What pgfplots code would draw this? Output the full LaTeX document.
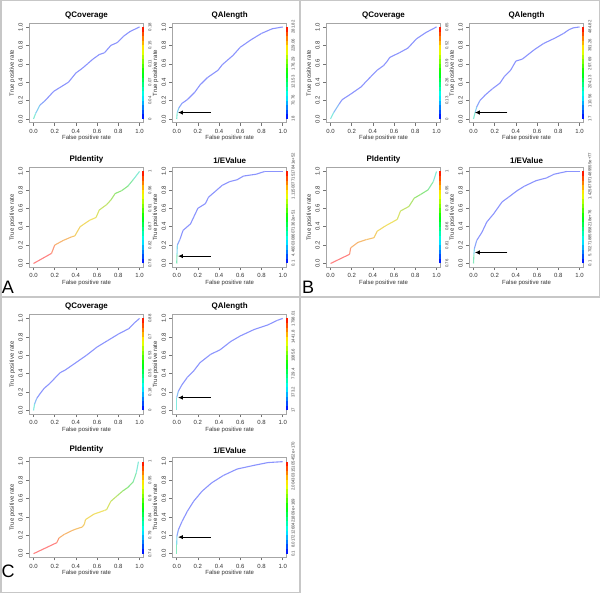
\documentclass[border=0pt]{standalone}
\usepackage{pgfplots}
\pgfplotsset{compat=1.18}
\usepackage{pgfplotstable}
\usepackage{fontspec}
\setmainfont{Liberation Sans}
\usetikzlibrary{arrows.meta}

\pgfplotsset{
  colormap={vivid}{rgb255=(0,0,255) rgb255=(0,255,255) rgb255=(0,255,0) rgb255=(255,255,0) rgb255=(255,0,0)},
  colormap={pastel}{rgb255=(140,140,255) rgb255=(130,235,235) rgb255=(140,230,120) rgb255=(240,225,100) rgb255=(255,130,130)},
  roc/.style 2 args={
    at={({(#1-4.24)*1pt},{(590.32-#2)*1pt})}, anchor=south west,
    scale only axis, width=114.5pt, height=99.4pt,
    xmin=-0.04, xmax=1.04, ymin=-0.04, ymax=1.04,
    xtick={0,0.2,0.4,0.6,0.8,1}, ytick={0,0.2,0.4,0.6,0.8,1},
    xticklabels={0.0,0.2,0.4,0.6,0.8,1.0}, yticklabels={0.0,0.2,0.4,0.6,0.8,1.0},
    tick pos=left, tick align=outside,
    major tick length=3pt, tick style={black!55, line width=0.5pt},
    axis line style={black!35, line width=1pt},
    tick label style={font=\fontsize{6}{7}\selectfont, text=black!80},
    yticklabel style={rotate=90, anchor=south},
    label style={font=\fontsize{6}{7}\selectfont, text=black!80},
    xlabel={False positive rate}, ylabel={True positive rate},
    xlabel style={at={(axis description cs:0.5,-0.155)}, anchor=center},
    ylabel style={at={(axis description cs:-0.148,0.5)}, anchor=center, rotate=0},
    title style={font=\bfseries\fontsize{8}{9}\selectfont, at={(axis description cs:0.5,1)}, anchor=south, yshift=-5.2pt},
    point meta min=0, point meta max=1, colormap name=vivid,
    clip=false,
  },
  curve/.style={mesh, colormap name=pastel, point meta=explicit, line width=1.1pt, shader=flat},
  cbar/.style={mesh, colormap name=vivid, point meta=y, line width=2pt, shader=flat},
}

\pgfplotstableread{
x y
1.037 0
1.037 0.05
1.037 0.1
1.037 0.15
1.037 0.2
1.037 0.25
1.037 0.3
1.037 0.35
1.037 0.4
1.037 0.45
1.037 0.5
1.037 0.55
1.037 0.6
1.037 0.65
1.037 0.7
1.037 0.75
1.037 0.8
1.037 0.85
1.037 0.9
1.037 0.95
1.037 1
}\cbartable

\newcommand{\cbl}[2]{\node[font=\fontsize{4.3}{5}\selectfont, text=black!75, rotate=90, anchor=north, inner sep=0pt] at ([xshift=4.5pt]axis cs:1.04,#1) {#2};}
\newcommand{\cbsix}[6]{\cbl{0}{#1}\cbl{0.2}{#2}\cbl{0.4}{#3}\cbl{0.6}{#4}\cbl{0.8}{#5}\cbl{1}{#6}}
\newcommand{\cbe}[3]{\cbl{0}{#1}\cbl{0.33}{#2}\cbl{0.95}{#3}}
\newcommand{\pointer}[1]{\draw[-{Latex[length=5pt,width=4.5pt]}, line width=1pt, black] (axis cs:0.32,#1) -- (axis cs:0.012,#1);}

\begin{document}
\begin{tikzpicture}
\path[use as bounding box] (0pt,0pt) rectangle (600pt,594pt);
% panel frames
\draw[black!22, line width=1.5pt] (0.75pt,297pt) rectangle (300pt,593.25pt);
\draw[black!22, line width=1.5pt] (300pt,297pt) rectangle (599.25pt,593.25pt);
\draw[black!22, line width=1.5pt] (0.75pt,1.5pt) rectangle (300pt,297pt);

% ===== Panel A =====
\begin{axis}[roc={33.5}{119}, title={QCoverage}]
\addplot[cbar] table {\cbartable};
\addplot[curve] table[meta=c] {
x y c
0 0 0.35
0.02 0.06 0.25
0.06 0.15 0.1
0.11 0.2 0.03
0.19 0.3 0.02
0.26 0.35 0.02
0.33 0.4 0.02
0.4 0.5 0.02
0.46 0.55 0.02
0.51 0.6 0.02
0.56 0.65 0.02
0.62 0.7 0.02
0.67 0.72 0.02
0.73 0.8 0.02
0.79 0.83 0.02
0.85 0.9 0.02
0.91 0.95 0.02
1 1 0.02
};
\cbsix{0}{0.04}{0.07}{0.11}{0.15}{0.18}
\end{axis}

\begin{axis}[roc={176.7}{119}, title={QAlength}]
\addplot[cbar] table {\cbartable};
\addplot[curve] table[meta=c] {
x y c
0 0 0.35
0.005 0.07 0.25
0.02 0.12 0.1
0.05 0.17 0.03
0.1 0.21 0.02
0.17 0.29 0.02
0.22 0.37 0.02
0.29 0.45 0.02
0.34 0.49 0.02
0.39 0.53 0.02
0.43 0.59 0.02
0.47 0.63 0.02
0.53 0.69 0.02
0.6 0.78 0.02
0.7 0.86 0.02
0.8 0.93 0.02
0.9 0.98 0.02
1 1 0.02
};
\cbsix{18}{70.76}{123.53}{176.29}{229.06}{281.82}
\pointer{0.07}
\end{axis}

\begin{axis}[roc={33.5}{263.5}, title={PIdentity}]
\addplot[cbar] table {\cbartable};
\addplot[curve] table[meta=c] {
x y c
0 0 1
0.17 0.11 1
0.2 0.2 0.88
0.28 0.25 0.86
0.36 0.29 0.84
0.39 0.3 0.8
0.44 0.4 0.78
0.53 0.47 0.76
0.59 0.5 0.74
0.62 0.58 0.66
0.69 0.64 0.64
0.73 0.69 0.6
0.77 0.76 0.52
0.83 0.79 0.5
0.89 0.84 0.45
0.94 0.91 0.35
1 1 0.25
};
\cbsix{0.78}{0.82}{0.87}{0.91}{0.96}{1}
\end{axis}

\begin{axis}[roc={176.7}{263.5}, title={1/EValue}]
\addplot[cbar] table {\cbartable};
\addplot[curve] table[meta=c] {
x y c
0 0 0.4
0.003 0.1 0.3
0.006 0.2 0.1
0.03 0.26 0.03
0.06 0.36 0.02
0.13 0.43 0.02
0.2 0.6 0.02
0.27 0.65 0.02
0.3 0.72 0.02
0.37 0.79 0.02
0.43 0.85 0.02
0.5 0.89 0.02
0.57 0.91 0.02
0.63 0.95 0.02
0.75 0.97 0.02
0.83 1 0.02
1 1 0.02
};
\cbe{0.1}{4.46003086071362e+51}{1.11500771517841e+52}
\pointer{0.08}
\end{axis}

% ===== Panel B =====
\begin{axis}[roc={330.5}{119}, title={QCoverage}]
\addplot[cbar] table {\cbartable};
\addplot[curve] table[meta=c] {
x y c
0 0 0.35
0.03 0.07 0.2
0.08 0.16 0.05
0.11 0.21 0.02
0.19 0.27 0.02
0.29 0.35 0.02
0.33 0.4 0.02
0.38 0.46 0.02
0.44 0.53 0.02
0.5 0.58 0.02
0.53 0.62 0.02
0.56 0.67 0.02
0.65 0.72 0.02
0.73 0.77 0.02
0.81 0.87 0.02
0.9 0.94 0.02
1 1 0.02
};
\cbsix{0}{0.13}{0.26}{0.39}{0.52}{0.65}
\end{axis}

\begin{axis}[roc={473.5}{119}, title={QAlength}]
\addplot[cbar] table {\cbartable};
\addplot[curve] table[meta=c] {
x y c
0 0 0.35
0.015 0.07 0.25
0.03 0.13 0.1
0.06 0.2 0.03
0.11 0.26 0.02
0.18 0.33 0.02
0.25 0.39 0.02
0.29 0.46 0.02
0.35 0.53 0.02
0.4 0.63 0.02
0.46 0.65 0.02
0.57 0.75 0.02
0.66 0.82 0.02
0.77 0.88 0.02
0.85 0.93 0.02
0.9 0.97 0.02
0.94 0.99 0.02
1 1 0.02
};
\cbsix{17}{110.56}{204.13}{297.69}{391.26}{484.82}
\pointer{0.07}
\end{axis}

\begin{axis}[roc={330.5}{263.5}, title={PIdentity}]
\addplot[cbar] table {\cbartable};
\addplot[curve] table[meta=c] {
x y c
0 0 1
0.18 0.1 1
0.19 0.17 0.88
0.26 0.23 0.86
0.34 0.26 0.84
0.41 0.28 0.82
0.44 0.35 0.78
0.52 0.41 0.76
0.6 0.46 0.74
0.63 0.48 0.72
0.66 0.57 0.66
0.74 0.62 0.62
0.79 0.71 0.56
0.85 0.75 0.5
0.92 0.8 0.45
0.97 0.89 0.35
1 1 0.25
};
\cbsix{0.76}{0.81}{0.86}{0.9}{0.95}{1}
\end{axis}

\begin{axis}[roc={473.5}{263.5}, title={1/EValue}]
\addplot[cbar] table {\cbartable};
\addplot[curve] table[meta=c] {
x y c
0 0 0.4
0.004 0.1 0.3
0.008 0.16 0.1
0.03 0.25 0.03
0.08 0.34 0.02
0.125 0.45 0.02
0.19 0.54 0.02
0.27 0.67 0.02
0.33 0.72 0.02
0.41 0.79 0.02
0.48 0.84 0.02
0.59 0.9 0.02
0.69 0.93 0.02
0.76 0.97 0.02
0.88 1 0.02
1 1 0.02
};
\cbe{0.1}{5.70271885958218e+76}{1.42567971489555e+77}
\pointer{0.12}
\end{axis}

% ===== Panel C =====
\begin{axis}[roc={33.5}{410.5}, title={QCoverage}]
\addplot[cbar] table {\cbartable};
\addplot[curve] table[meta=c] {
x y c
0 0 0.35
0.01 0.07 0.2
0.03 0.13 0.05
0.06 0.18 0.02
0.1 0.24 0.02
0.15 0.29 0.02
0.2 0.35 0.02
0.25 0.41 0.02
0.3 0.44 0.02
0.4 0.52 0.02
0.5 0.6 0.02
0.6 0.69 0.02
0.7 0.76 0.02
0.8 0.83 0.02
0.9 0.89 0.02
0.95 0.95 0.02
1 1 0.02
};
\cbsix{0}{0.18}{0.35}{0.53}{0.7}{0.88}
\end{axis}

\begin{axis}[roc={176.7}{410.5}, title={QAlength}]
\addplot[cbar] table {\cbartable};
\addplot[curve] table[meta=c] {
x y c
0 0 0.35
0 0.14 0.2
0.016 0.21 0.05
0.05 0.28 0.02
0.1 0.36 0.02
0.16 0.43 0.02
0.22 0.52 0.02
0.32 0.61 0.02
0.41 0.66 0.02
0.51 0.75 0.02
0.6 0.81 0.02
0.73 0.88 0.02
0.86 0.93 0.02
0.95 0.98 0.02
1 1 0.02
};
\cbsix{17}{373.2}{729.4}{1085.6}{1441.8}{1798.01}
\pointer{0.14}
\end{axis}

\begin{axis}[roc={33.5}{553.7}, title={PIdentity}]
\addplot[cbar] table {\cbartable};
\addplot[curve] table[meta=c] {
x y c
0 0 1
0.22 0.12 1
0.24 0.17 0.88
0.29 0.21 0.86
0.38 0.26 0.85
0.46 0.29 0.82
0.48 0.32 0.8
0.49 0.37 0.78
0.57 0.43 0.76
0.67 0.47 0.74
0.69 0.48 0.72
0.73 0.57 0.66
0.79 0.63 0.6
0.84 0.68 0.54
0.89 0.72 0.48
0.94 0.78 0.42
0.97 0.88 0.33
0.99 1 0.25
};
\cbsix{0.74}{0.79}{0.84}{0.9}{0.95}{1}
\end{axis}

\begin{axis}[roc={176.7}{553.7}, title={1/EValue}]
\addplot[cbar] table {\cbartable};
\addplot[curve] table[meta=c] {
x y c
0 0 0.4
0 0.1 0.3
0.002 0.19 0.1
0.016 0.26 0.03
0.05 0.35 0.02
0.1 0.46 0.02
0.16 0.57 0.02
0.24 0.68 0.02
0.33 0.77 0.02
0.44 0.85 0.02
0.57 0.92 0.02
0.73 0.96 0.02
0.86 0.99 0.02
1 1 0.02
};
\cbe{0.1}{8.01721260421809e+169}{2.00430315105452e+170}
\pointer{0.18}
\end{axis}

% panel letters
\node[font=\fontsize{18}{18}\selectfont, anchor=center] at (8pt,307pt) {A};
\node[font=\fontsize{18}{18}\selectfont, anchor=center] at (308pt,307pt) {B};
\node[font=\fontsize{18}{18}\selectfont, anchor=center] at (8pt,22.5pt) {C};
\end{tikzpicture}
\end{document}
